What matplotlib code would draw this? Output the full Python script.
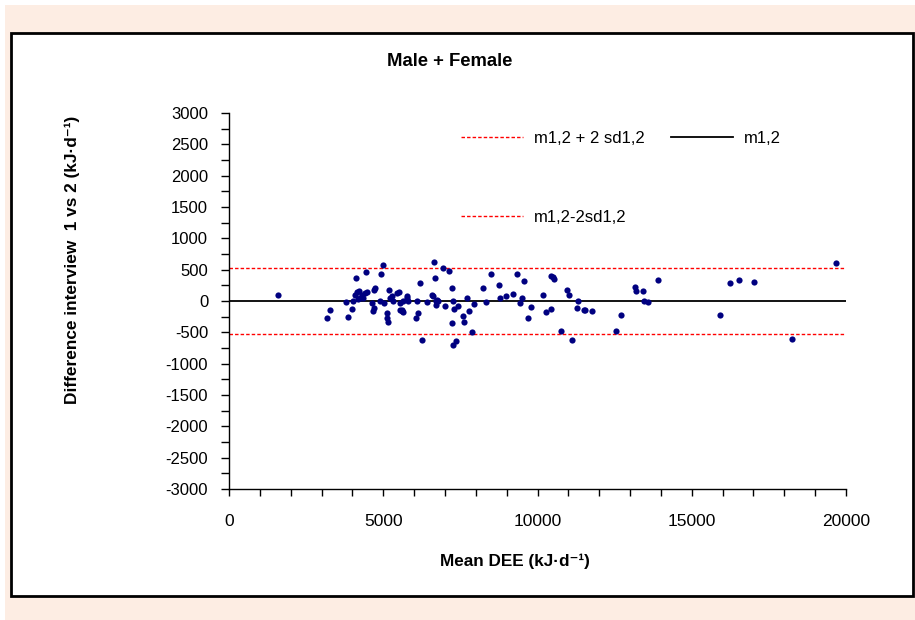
import matplotlib
matplotlib.use("Agg")
import matplotlib.pyplot as plt
import matplotlib.patches as mpatches
from matplotlib.ticker import MultipleLocator
import numpy as np

# values (mean DEE vs difference interview 1-2)
mean_dee = [1600, 3165, 3285, 3790, 3870, 3997, 4030, 4085, 4160, 4195,
            4105, 4225, 4246, 4300, 4355, 4410, 4430, 4463, 4626, 4680,
            4700, 4710, 4733, 4917, 5000, 4895, 5024, 5110, 5130, 5165,
            5186, 5219, 5273, 5327, 5435, 5520, 5543, 5543, 5597, 5597,
            5650, 5650, 5760, 5760, 5792, 6061, 6083, 6136, 6191, 6256,
            6408, 6570, 6622, 6655, 6677, 6700, 6710, 6732, 6785, 6928,
            7002, 7142, 7220, 7240, 7270, 7303, 7270, 7346, 7433, 7595,
            7627, 7703, 7780, 7887, 7941, 8243, 8320, 8483, 8762, 8784,
            8979, 9196, 9326, 9433, 9487, 9562, 9692, 9779, 10188, 10276,
            10438, 10428, 10513, 10546, 10752, 10946, 11021, 11129, 11291, 11323,
            11518, 11540, 11756, 12544, 12696, 13160, 13183, 13430, 13462, 13592,
            13906, 15926, 16240, 16520, 17030, 18240, 19676]
diff_12 = [100, -277, -144, -16, -261, -123, -6, 100, 137, 32,
           360, 153, 48, 100, 48, 128, 456, 143, -32, -155,
           -110, 180, 207, 424, 574, -6, -32, -191, -271, -335,
           180, 48, 73, -6, 128, 143, -32, -139, -139, -166,
           -175, -6, 48, 73, -6, -271, -6, -191, 287, -628,
           -22, 100, 73, 616, 367, -59, -6, 21, -6, 531,
           -86, 472, 207, -351, -6, -128, -697, -644, -86, -245,
           -330, 48, -166, -490, -43, 207, -22, 431, 260, 48,
           85, 112, 431, -32, 48, 313, -277, -102, 89, -182,
           -123, 404, 376, 356, -485, 180, 89, -617, -107, -6,
           -139, -150, -160, -485, -219, 223, 164, 164, -6, -22,
           340, -219, 281, 340, 297, -601, 606]

m12 = 0
upper = 520
lower = -520

plt.rcParams['font.family'] = ['Liberation Sans', 'DejaVu Sans']
plt.rcParams['axes.unicode_minus'] = False

fig = plt.figure(figsize=(9.15, 6.2), dpi=100)
fig.patch.set_facecolor('white')

W, H = 915.0, 620.0
# peach background and white framed panel
fig.patches.append(mpatches.Rectangle((5 / W, 0), 1 - 5 / W, 1 - 5 / H,
                                      transform=fig.transFigure, facecolor='#fdede3',
                                      edgecolor='none', zorder=-2))
fig.patches.append(mpatches.Rectangle((11 / W, 1 - 596 / H), (913 - 11) / W, (596 - 33) / H,
                                      transform=fig.transFigure, facecolor='white',
                                      edgecolor='black', lw=2, zorder=-1))

ax = fig.add_axes([229 / W, 1 - 489 / H, (846 - 229) / W, (489 - 113) / H])
ax.set_facecolor('none')

h_up = ax.axhline(upper, color='red', lw=1, ls=(0, (2.5, 1.5)), label='m1,2 + 2 sd1,2')
h_lo = ax.axhline(lower, color='red', lw=1, ls=(0, (2.5, 1.5)), label='m1,2-2sd1,2')
h_m = ax.axhline(m12, color='black', lw=1.3, label='m1,2')
ax.scatter(mean_dee, diff_12, s=20, color='#000080', zorder=3, linewidths=0)

ax.set_xlim(0, 20000)
ax.set_ylim(-3000, 3000)
ax.xaxis.set_major_locator(MultipleLocator(5000))
ax.xaxis.set_minor_locator(MultipleLocator(1000))
ax.yaxis.set_major_locator(MultipleLocator(500))
ax.yaxis.set_minor_locator(MultipleLocator(250))
for s in ['top', 'right']:
    ax.spines[s].set_visible(False)
ax.spines['left'].set_linewidth(1)
ax.spines['bottom'].set_linewidth(1)
ax.tick_params(axis='y', which='both', direction='out', length=6, width=1, labelsize=12, pad=9)
ax.tick_params(axis='x', which='both', direction='out', length=5, width=1, labelsize=12.5, pad=13)

leg = ax.legend(handles=[h_up, h_lo, h_m], ncol=2, frameon=False, fontsize=12,
                loc='upper left', bbox_to_anchor=(453 / W, 1 - 123 / H),
                bbox_transform=fig.transFigure, borderpad=0, handlelength=3.7,
                handletextpad=0.65, labelspacing=3.8, columnspacing=1.6)

fig.text(450 / W, 1 - 62 / H, 'Male + Female', ha='center', va='center',
         fontsize=13.3, fontweight='bold')
fig.text(515 / W, 1 - 561 / H, 'Mean DEE (kJ·d\u207b\u00b9)', ha='center', va='center',
         fontsize=12.3, fontweight='bold')
fig.text(72 / W, 1 - 260 / H, 'Difference interview  1 vs 2 (kJ·d\u207b\u00b9)', ha='center',
         va='center', rotation=90, fontsize=12.4, fontweight='bold')

fig.savefig('out.png', dpi=100)
